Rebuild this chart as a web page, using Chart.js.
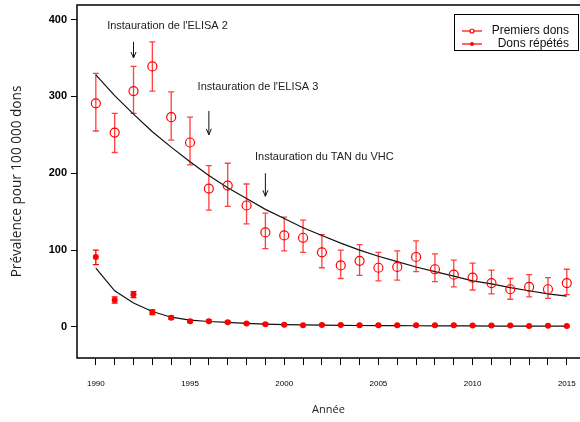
<!DOCTYPE html>
<html>
<head>
<meta charset="utf-8">
<script src="https://cdn.jsdelivr.net/npm/chart.js@4.4.0/dist/chart.umd.min.js"></script>
<style>
  html, body { margin: 0; padding: 0; background: #fff; }
</style>
</head>
<body>
<canvas id="chart" width="580" height="422"></canvas>
<script>
const years = [1990, 1991, 1992, 1993, 1994, 1995, 1996, 1997, 1998, 1999, 2000, 2001, 2002,
               2003, 2004, 2005, 2006, 2007, 2008, 2009, 2010, 2011, 2012, 2013, 2014, 2015];
const labelledYears = [1990, 1995, 2000, 2005, 2010, 2015];
const yTicks = [0, 100, 200, 300, 400];

// premiers dons (open circles) + 95% interval
const premiers     = [291, 253, 307, 339, 273, 240, 180, 184, 158, 123, 119, 116, 97, 80, 86, 77, 78, 91, 75, 68, 64, 57, 49, 52, 49, 57];
const premiersLow  = [255, 227, 278, 307, 243, 211, 152, 157, 134, 102, 99, 97, 77, 63, 67, 60, 61, 72, 59, 52, 48, 43, 36, 39, 37, 42];
const premiersHigh = [330, 278, 339, 371, 306, 273, 210, 213, 186, 148, 143, 139, 120, 100, 107, 97, 99, 112, 95, 87, 83, 74, 63, 68, 64, 75];
const premiersFit  = [328, 301, 277, 254, 234, 215, 197, 181, 167, 153, 141, 129, 119, 109, 100, 92, 85, 78, 72, 66, 60, 56, 51, 47, 43, 40];

// dons répétés (filled dots)
const repetes      = [91, 35, 42, 19, 12, 7.5, 7.5, 6, 4.5, 3.5, 2.7, 2, 2.6, 2.6, 2, 2, 2, 2, 2, 2, 1.8, 1.8, 1.8, 1, 1.5, 1];
const repetesLow   = [81, 31, 38, 16, 10, 6, 6, 5, 3.5, 2.5, 2, 1.5, 2, 2, 1.5, 1.5, 1.5, 1.5, 1.5, 1.5, 1.3, 1.3, 1.3, 0.5, 1, 0.5];
const repetesHigh  = [100, 39, 46, 22, 14, 9, 9, 7.5, 5.5, 4.5, 3.5, 2.5, 3.2, 3.2, 2.5, 2.5, 2.5, 2.5, 2.5, 2.5, 2.3, 2.3, 2.3, 1.5, 2, 1.5];
const repetesFit   = [76.5, 47, 31, 20, 12.6, 8.7, 7, 6, 4.5, 3.5, 3, 2.5, 2.2, 2, 1.8, 1.7, 1.6, 1.5, 1.4, 1.3, 1.2, 1.1, 1.1, 1, 1, 1];

const notes = [
    { text: "Instauration de l'ELISA 2", x: 1990.6, y: 392, arrowYear: 1992, from: 371, to: 350 },
    { text: "Instauration de l'ELISA 3", x: 1995.4, y: 312, arrowYear: 1996, from: 281, to: 250 },
    { text: "Instauration du TAN du VHC", x: 1998.45, y: 221, arrowYear: 1999, from: 200, to: 170 }
];

const pts = vals => years.map((yr, i) => ({ x: yr, y: vals[i] }));
const red = '#ff0000';

const extras = {
    id: 'extras',
    beforeDatasetsDraw(chart) {
        const { ctx, scales: { x, y } } = chart;
        ctx.save();
        chart.data.datasets.forEach(ds => {
            if (!ds.errLow) return;
            ctx.strokeStyle = ds.errColor;
            ctx.lineWidth = 1.3;
            years.forEach((yr, i) => {
                const px = x.getPixelForValue(yr);
                const lo = y.getPixelForValue(ds.errLow[i]);
                const hi = y.getPixelForValue(ds.errHigh[i]);
                ctx.beginPath();
                ctx.moveTo(px, lo); ctx.lineTo(px, hi);
                ctx.moveTo(px - 3, lo); ctx.lineTo(px + 3, lo);
                ctx.moveTo(px - 3, hi); ctx.lineTo(px + 3, hi);
                ctx.stroke();
            });
        });
        ctx.restore();
    },
    afterDraw(chart) {
        const { ctx, chartArea: a, scales: { x, y } } = chart;
        ctx.save();
        // frame
        ctx.strokeStyle = '#000';
        ctx.lineWidth = 1.5;
        ctx.beginPath();
        ctx.moveTo(a.right, a.top); ctx.lineTo(a.left, a.top);
        ctx.lineTo(a.left, a.bottom); ctx.lineTo(a.right, a.bottom);
        ctx.stroke();

        // annotations
        ctx.font = '11px "Liberation Sans", Arial, sans-serif';
        ctx.fillStyle = '#222';
        ctx.textBaseline = 'middle';
        ctx.textAlign = 'left';
        notes.forEach(n => {
            ctx.fillText(n.text, x.getPixelForValue(n.x), y.getPixelForValue(n.y));
            const ax = x.getPixelForValue(n.arrowYear);
            const y1 = y.getPixelForValue(n.from), y2 = y.getPixelForValue(n.to);
            ctx.strokeStyle = '#111';
            ctx.lineWidth = 1;
            ctx.beginPath();
            ctx.moveTo(ax, y1); ctx.lineTo(ax, y2);
            ctx.moveTo(ax - 2.5, y2 - 6); ctx.lineTo(ax, y2); ctx.lineTo(ax + 2.5, y2 - 6);
            ctx.stroke();
        });

        // legend
        const lx = 454, ly = 14, lw = 124, lh = 36;
        ctx.fillStyle = '#fff';
        ctx.fillRect(lx, ly, lw, lh);
        ctx.strokeStyle = '#000';
        ctx.lineWidth = 1;
        ctx.strokeRect(lx + 0.5, ly + 0.5, lw, lh);
        ctx.font = '12px "Liberation Sans", Arial, sans-serif';
        ctx.textAlign = 'right';
        [chart.data.datasets[0], chart.data.datasets[1]].forEach((ds, i) => {
            const ry = ly + 17 + i * 13;
            ctx.strokeStyle = red;
            ctx.lineWidth = 1.2;
            ctx.beginPath();
            ctx.moveTo(lx + 8, ry); ctx.lineTo(lx + 28, ry);
            ctx.stroke();
            ctx.beginPath();
            ctx.arc(lx + 18, ry, 2, 0, Math.PI * 2);
            if (i === 1) { ctx.fillStyle = red; ctx.fill(); } else { ctx.fillStyle = '#fff'; ctx.fill(); ctx.stroke(); }
            ctx.fillStyle = '#111';
            ctx.fillText(ds.label, lx + 115, ry);
        });
        ctx.restore();
    }
};

new Chart(document.getElementById('chart'), {
    type: 'line',
    data: {
        datasets: [
            {
                label: 'Premiers dons',
                data: pts(premiers),
                errLow: premiersLow, errHigh: premiersHigh, errColor: 'rgba(255,30,30,0.85)',
                showLine: false,
                pointStyle: 'circle',
                pointRadius: 4.5,
                pointBorderWidth: 1.2,
                pointBorderColor: red,
                pointBackgroundColor: 'rgba(0,0,0,0)'
            },
            {
                label: 'Dons répétés',
                data: pts(repetes),
                errLow: repetesLow, errHigh: repetesHigh, errColor: red,
                showLine: false,
                pointRadius: 3,
                pointBorderWidth: 0,
                pointBackgroundColor: red
            },
            {
                label: 'Ajustement premiers dons',
                data: pts(premiersFit),
                borderColor: '#111', borderWidth: 1.2, pointRadius: 0, tension: 0
            },
            {
                label: 'Ajustement dons répétés',
                data: pts(repetesFit),
                borderColor: '#111', borderWidth: 1.2, pointRadius: 0, tension: 0
            }
        ]
    },
    options: {
        responsive: false,
        animation: false,
        layout: { autoPadding: false, padding: { top: 5, right: 0, left: 0, bottom: 0 } },
        plugins: { legend: { display: false }, tooltip: { enabled: false } },
        scales: {
            x: {
                type: 'linear',
                min: 1989,
                max: 2015.7,
                afterBuildTicks: s => { s.ticks = years.map(v => ({ value: v })); },
                afterFit: s => { s.height = 64; s.paddingLeft = 0; s.paddingRight = 0; },
                border: { display: false },
                grid: { drawOnChartArea: false, drawTicks: true, tickLength: 7, color: '#000', lineWidth: 1 },
                ticks: {
                    autoSkip: false, maxRotation: 0, padding: 14,
                    color: '#000',
                    font: { family: '"Liberation Sans", Arial, sans-serif', size: 8 },
                    callback: v => labelledYears.includes(v) ? String(v) : ''
                },
                title: {
                    display: true, text: 'Année', color: '#222',
                    font: { family: '"Open Sans", sans-serif', size: 11 },
                    padding: { top: 0, bottom: 6 }
                }
            },
            y: {
                min: -40.5,
                max: 419,
                afterBuildTicks: s => { s.ticks = yTicks.map(v => ({ value: v })); },
                afterFit: s => { s.width = 77; s.paddingTop = 0; s.paddingBottom = 0; },
                border: { display: false },
                grid: { drawOnChartArea: false, drawTicks: true, tickLength: 6, color: '#000', lineWidth: 1 },
                ticks: {
                    padding: 4, color: '#000',
                    font: { family: '"Liberation Sans", Arial, sans-serif', size: 11, weight: 'bold' }
                },
                title: {
                    display: true, text: 'Prévalence pour 100 000 dons', color: '#222',
                    font: { family: '"Open Sans", sans-serif', size: 13.6 },
                    padding: { top: 9, bottom: 0 }
                }
            }
        }
    },
    plugins: [extras]
});
</script>
</body>
</html>
